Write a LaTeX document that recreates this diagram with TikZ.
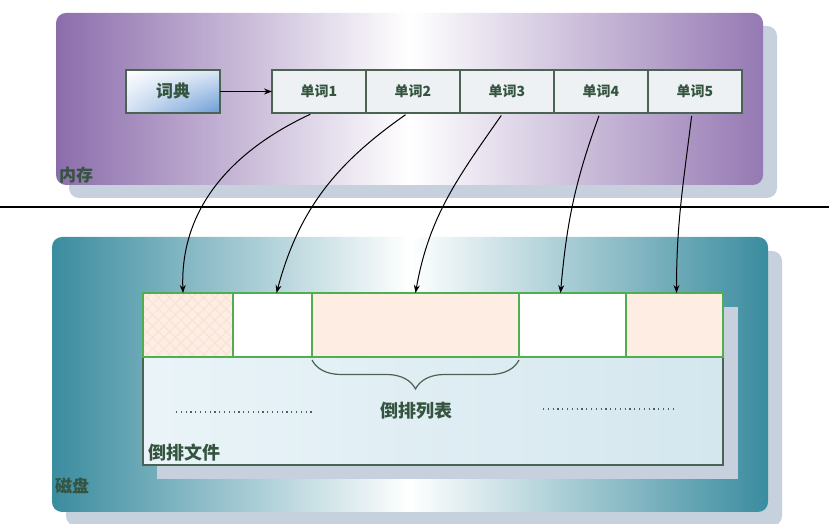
\documentclass[tikz,border=0pt]{standalone}
\usepackage{fontspec}
\newfontfamily\cjk{Noto Sans CJK SC}
\usetikzlibrary{positioning,arrows.meta,decorations.pathreplacing,patterns.meta,shadings}

\definecolor{memviolet}{HTML}{8C6DAC}
\definecolor{diskteal}{HTML}{3A8C9F}
\definecolor{shadowgray}{HTML}{C7D1DE}
\definecolor{labelgreen}{HTML}{34543F}
\definecolor{boxline}{HTML}{4A6352}
\definecolor{cellgreen}{HTML}{4FAE4F}
\definecolor{peach}{HTML}{FDEDE2}
\definecolor{hatchpink}{HTML}{F8E0D4}
\definecolor{wordfill}{HTML}{EEF1F4}
\definecolor{fileleft}{HTML}{EAF4F8}
\definecolor{fileright}{HTML}{D4E7EE}
\definecolor{dictblue}{HTML}{6B9BD6}
\definecolor{dotgray}{HTML}{4E6358}

\begin{document}
\begin{tikzpicture}[x=1pt, y=1pt,
  every node/.style={text=labelgreen, inner sep=0pt, outer sep=0pt},
  panel/.style={rounded corners=10pt},
  tag/.style={font=\cjk\bfseries\fontsize{17}{20}\selectfont},
  wordbox/.style={draw=boxline, line width=1.2pt, fill=wordfill, minimum width=94pt, minimum height=43pt, font=\cjk\bfseries\fontsize{14}{16}\selectfont},
  cell/.style={draw=cellgreen, line width=1.2pt, minimum height=64pt},
  link/.style={-{Stealth[length=8pt,width=6pt]}, line width=1pt, shorten <=3pt},
  dots/.style={dotgray, line width=1.2pt, dash pattern=on 1.2pt off 3.6pt}]
\useasboundingbox (0,0) rectangle (832,524);

% memory panel
\fill[panel, shadowgray] (69,326) rectangle (777,498);
\shade[panel, left color=memviolet, right color=memviolet!92!white, middle color=white] (56,339) rectangle (763,511);
\node[tag, anchor=west] (memlabel) at (59,349) {内存};

\node[draw=boxline, line width=1.2pt, minimum width=94pt, minimum height=43pt,
  upper left=white, upper right=dictblue!25, lower left=dictblue!30, lower right=dictblue,
  font=\cjk\bfseries\fontsize{17}{20}\selectfont] (dict) at (173,432.5) {词典};
\node[wordbox] (w1) at (319,432.5) {单词1};
\node[wordbox, right=0pt of w1] (w2) {单词2};
\node[wordbox, right=0pt of w2] (w3) {单词3};
\node[wordbox, right=0pt of w3] (w4) {单词4};
\node[wordbox, right=0pt of w4] (w5) {单词5};
\draw[-{Stealth[length=8pt,width=6pt]}, line width=1.2pt] (dict) -- (w1);

% separator
\coordinate (sepL) at (0,317);
\coordinate (sepR) at (829,317);
\draw[line width=1.6pt] (sepL) -- (sepR);

% disk panel
\fill[panel, shadowgray] (66,-2) rectangle (782,273);
\shade[panel, left color=diskteal, right color=diskteal, middle color=white] (52,12) rectangle (768,287);
\node[tag, anchor=west] (disklabel) at (55,38) {磁盘};

\fill[shadowgray] (157,45) rectangle (738,217);
\node[draw=boxline, line width=1.2pt, left color=fileleft, right color=fileright,
  minimum width=580pt, minimum height=172pt] (file) at (433,145) {};
\node[tag, font=\cjk\bfseries\fontsize{18}{20}\selectfont, anchor=south west] (filelabel) at ([shift={(5,4)}]file.south west) {倒排文件};

\node[cell, minimum width=90pt, anchor=north west, preaction={fill=peach},
  preaction={pattern={Lines[angle=45,distance=8pt,line width=0.8pt]}, pattern color=hatchpink},
  pattern={Lines[angle=-45,distance=8pt,line width=0.8pt]}, pattern color=hatchpink] (c1) at (file.north west) {};
\node[cell, minimum width=79pt, fill=white, right=0pt of c1] (c2) {};
\node[cell, minimum width=207pt, fill=peach, right=0pt of c2] (c3) {};
\node[cell, minimum width=107pt, fill=white, right=0pt of c3] (c4) {};
\node[cell, minimum width=97pt, fill=peach, right=0pt of c4] (c5) {};

\draw[decorate, decoration={brace, mirror, amplitude=29pt, raise=3pt}, boxline, line width=1.2pt] (c3.south west) -- (c3.south east);
\node[font=\cjk\bfseries\fontsize{18}{20}\selectfont] (listlabel) at (416,113) {倒排列表};

\draw[dots] (176,112) -- (312,112);
\draw[dots] (543,115) -- (677,115);

% word -> posting list
\draw[link] ([xshift=-6pt]w1.south) to[out=-155, in=92] ([xshift=-5pt]c1.north);
\draw[link] ([xshift=-5pt]w2.south) to[out=-145, in=75] ([xshift=4pt]c2.north);
\draw[link] ([xshift=-4pt]w3.south) to[out=-125, in=80] (c3.north);
\draw[link] ([xshift=-1pt]w4.south) to[out=-110, in=85] ([xshift=-12pt]c4.north);
\draw[link] ([xshift=-3pt]w5.south) to[out=-97, in=90] ([xshift=2pt]c5.north);
\end{tikzpicture}
\end{document}
